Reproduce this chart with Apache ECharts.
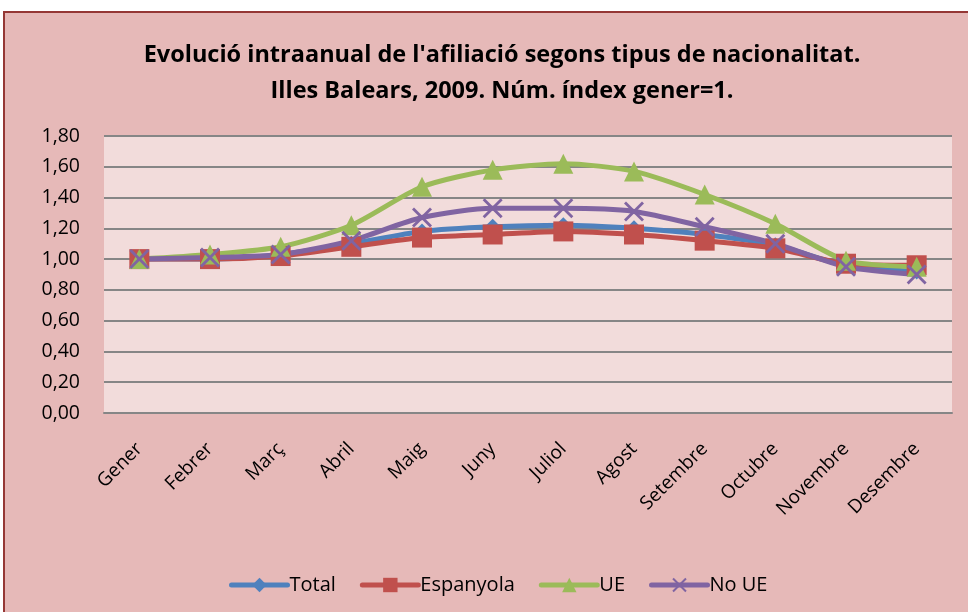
<!DOCTYPE html>
<html>
<head>
<meta charset="utf-8">
<script src="https://cdn.jsdelivr.net/npm/echarts@6/dist/echarts.min.js"></script>
<style>
  html, body { margin: 0; padding: 0; background: #fff; overflow: hidden; }
  .chart-box {
    position: absolute;
    left: 3px;
    top: 11px;
    width: 980px;
    height: 620px;
    border: 2px solid #953735;
    background-color: #E6B9B8;
  }
  #chartLine { width: 963px; height: 599px; }
</style>
</head>
<body>
<div class="chart-box">
  <div id="chartLine"></div>
</div>
<script>
const months = ['Gener', 'Febrer', 'Març', 'Abril', 'Maig', 'Juny', 'Juliol', 'Agost', 'Setembre', 'Octubre', 'Novembre', 'Desembre']
const total = [1.00, 1.00, 1.03, 1.10, 1.18, 1.21, 1.22, 1.20, 1.16, 1.09, 0.96, 0.92]
const espanyola = [1.00, 1.00, 1.02, 1.08, 1.14, 1.16, 1.18, 1.16, 1.12, 1.07, 0.97, 0.96]
const ue = [1.00, 1.03, 1.08, 1.22, 1.47, 1.58, 1.62, 1.57, 1.42, 1.23, 0.99, 0.95]
const noUe = [1.00, 1.01, 1.03, 1.12, 1.27, 1.33, 1.33, 1.31, 1.21, 1.10, 0.95, 0.90]

const font = '"Open Sans", sans-serif'
const xMark = 'path://M0,1L1,0L5,4L9,0L10,1L6,5L10,9L9,10L5,6L1,10L0,9L4,5Z'

function line (name, data, color, symbol, size) {
  return {
    name: name,
    type: 'line',
    data: data,
    smooth: 0.25,
    symbol: symbol,
    symbolSize: size,
    lineStyle: { color: color, width: 5, cap: 'round' },
    itemStyle: { color: color },
    emphasis: { disabled: true }
  }
}

let chart = echarts.init(document.getElementById('chartLine'))
chart.setOption({
  animation: false,
  title: {
    text: "Evolució intraanual de l'afiliació segons tipus de nacionalitat.\nIlles Balears, 2009. Núm. índex gener=1.",
    left: 492,
    textAlign: 'center',
    top: 19,
    textStyle: {
      fontFamily: font,
      fontSize: 23.5,
      fontWeight: 'bold',
      color: '#000',
      lineHeight: 36
    }
  },
  legend: {
    data: ['Total', 'Espanyola', 'UE', 'No UE'],
    top: 557,
    left: 219,
    itemWidth: 56,
    itemHeight: 18,
    itemGap: 24,
    lineStyle: { width: 5, cap: 'round' },
    textStyle: { fontFamily: font, fontSize: 20, color: '#000', padding: [0, 0, 0, -3] }
  },
  grid: {
    left: 99,
    right: 16,
    top: 123,
    bottom: 199,
    show: true,
    backgroundColor: '#F2DCDB',
    borderWidth: 0
  },
  xAxis: {
    type: 'category',
    data: months,
    axisLine: { lineStyle: { color: '#868686', width: 2 } },
    axisTick: { show: false },
    axisLabel: {
      rotate: 45,
      fontFamily: font,
      fontSize: 19,
      color: '#000',
      margin: 33
    }
  },
  yAxis: {
    type: 'value',
    min: 0,
    max: 1.8,
    interval: 0.2,
    axisLine: { show: false },
    axisTick: { show: false },
    axisLabel: {
      fontFamily: font,
      fontSize: 19.5,
      color: '#000',
      margin: 24,
      formatter: function (v) { return v.toFixed(2).replace('.', ',') }
    },
    splitLine: { lineStyle: { color: '#868686', width: 2 } }
  },
  series: [
    line('Total', total, '#4F81BD', 'diamond', 16),
    line('Espanyola', espanyola, '#C0504D', 'rect', 20),
    line('UE', ue, '#9BBB59', 'triangle', 20),
    line('No UE', noUe, '#8064A2', xMark, 20)
  ]
})
</script>
</body>
</html>
